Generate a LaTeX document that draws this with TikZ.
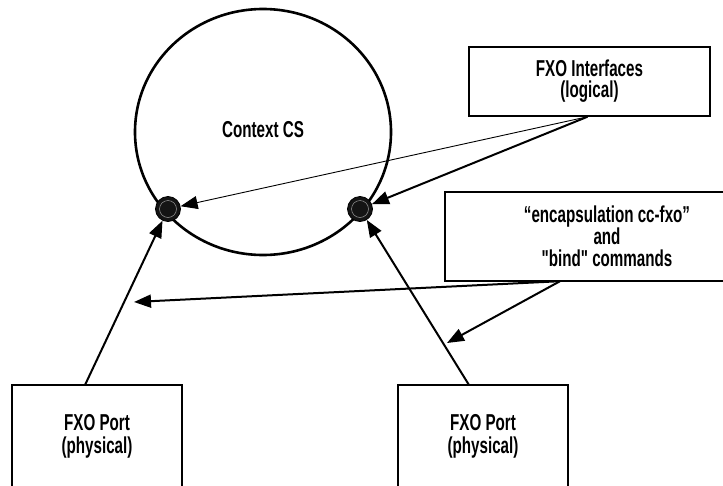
\documentclass[tikz,border=0pt]{standalone}
\usepackage{fontspec}
\setmainfont{Liberation Sans}[FakeStretch=0.66,Ligatures=TeXOff]
\usetikzlibrary{arrows.meta,shapes.geometric}
\begin{document}
\begin{tikzpicture}[x=1pt,y=-1pt,
  txt/.style={font=\fontsize{23}{21}\selectfont\bfseries,align=center,inner sep=0pt},
  box/.style={draw,line width=1.5pt,rectangle,inner sep=0pt,txt},
  ctx/.style={draw,ellipse,line width=2.6pt,inner sep=0pt,minimum width=256pt,minimum height=246pt,txt,text depth=6pt},
  dotnode/.style={circle,draw=black,line width=0.8pt,fill=black!92,minimum size=25pt,inner sep=0pt,
    path picture={\draw[black!40,line width=0.5pt] (path picture bounding box.center) circle (8.5pt);}},
  conn/.style={line width=2pt,-{Triangle[length=17pt,width=13pt]}},
  thinconn/.style={line width=0.9pt,-{Triangle[length=17pt,width=13pt]}}
]
\fill[white] (0,0) rectangle (723,485);
\useasboundingbox (0,0) rectangle (723,485);

% context circle
\node[ctx] (cs) at (263,132) {Context CS};
\node[dotnode] (d1) at (168,209) {};
\node[dotnode] (d2) at (360,209) {};

% boxes
\node[box,minimum width=241pt,minimum height=69pt] (fi) at (589.5,81.5) {FXO Interfaces\\(logical)};
\node[rectangle,inner sep=0pt,minimum width=279pt,minimum height=89pt,anchor=west] (enc) at (445,236.5) {};
\draw[line width=1.5pt] (enc.north east) -- (enc.north west) -- (enc.south west) -- (enc.south east);
\node[txt,font=\fontsize{23}{22}\selectfont\bfseries] (enct) at (607,236.5)
  {“encapsulation cc-fxo”\\and\\"bind" commands};
\node[rectangle,inner sep=0pt,minimum width=170pt,minimum height=101pt,anchor=north] (p1) at (97,385) {};
\node[rectangle,inner sep=0pt,minimum width=170pt,minimum height=101pt,anchor=north] (p2) at (483,385) {};
\draw[line width=1.5pt] (p1.south west) -- (p1.north west) -- (p1.north east) -- (p1.south east);
\draw[line width=1.5pt] (p2.south west) -- (p2.north west) -- (p2.north east) -- (p2.south east);
\node[txt,font=\fontsize{23}{23}\selectfont\bfseries] (p1t) at (97,436) {FXO Port\\(physical)};
\node[txt,font=\fontsize{23}{23}\selectfont\bfseries] (p2t) at (483,436) {FXO Port\\(physical)};

% free ends
\coordinate (c1) at (134,302);
\coordinate (c2) at (447,343);

% connectors
\draw[thinconn] ([xshift=-2pt]fi.south) -- (d1);
\draw[conn] ([xshift=-2pt]fi.south) -- (d2);
\draw[conn] ([xshift=-12pt]p1.north) -- (d1);
\draw[conn] ([xshift=-14pt]p2.north) -- (d2);
\draw[conn] ([xshift=115pt]enc.south west) -- (c1);
\draw[conn] ([xshift=115pt]enc.south west) -- (c2);
\end{tikzpicture}
\end{document}
